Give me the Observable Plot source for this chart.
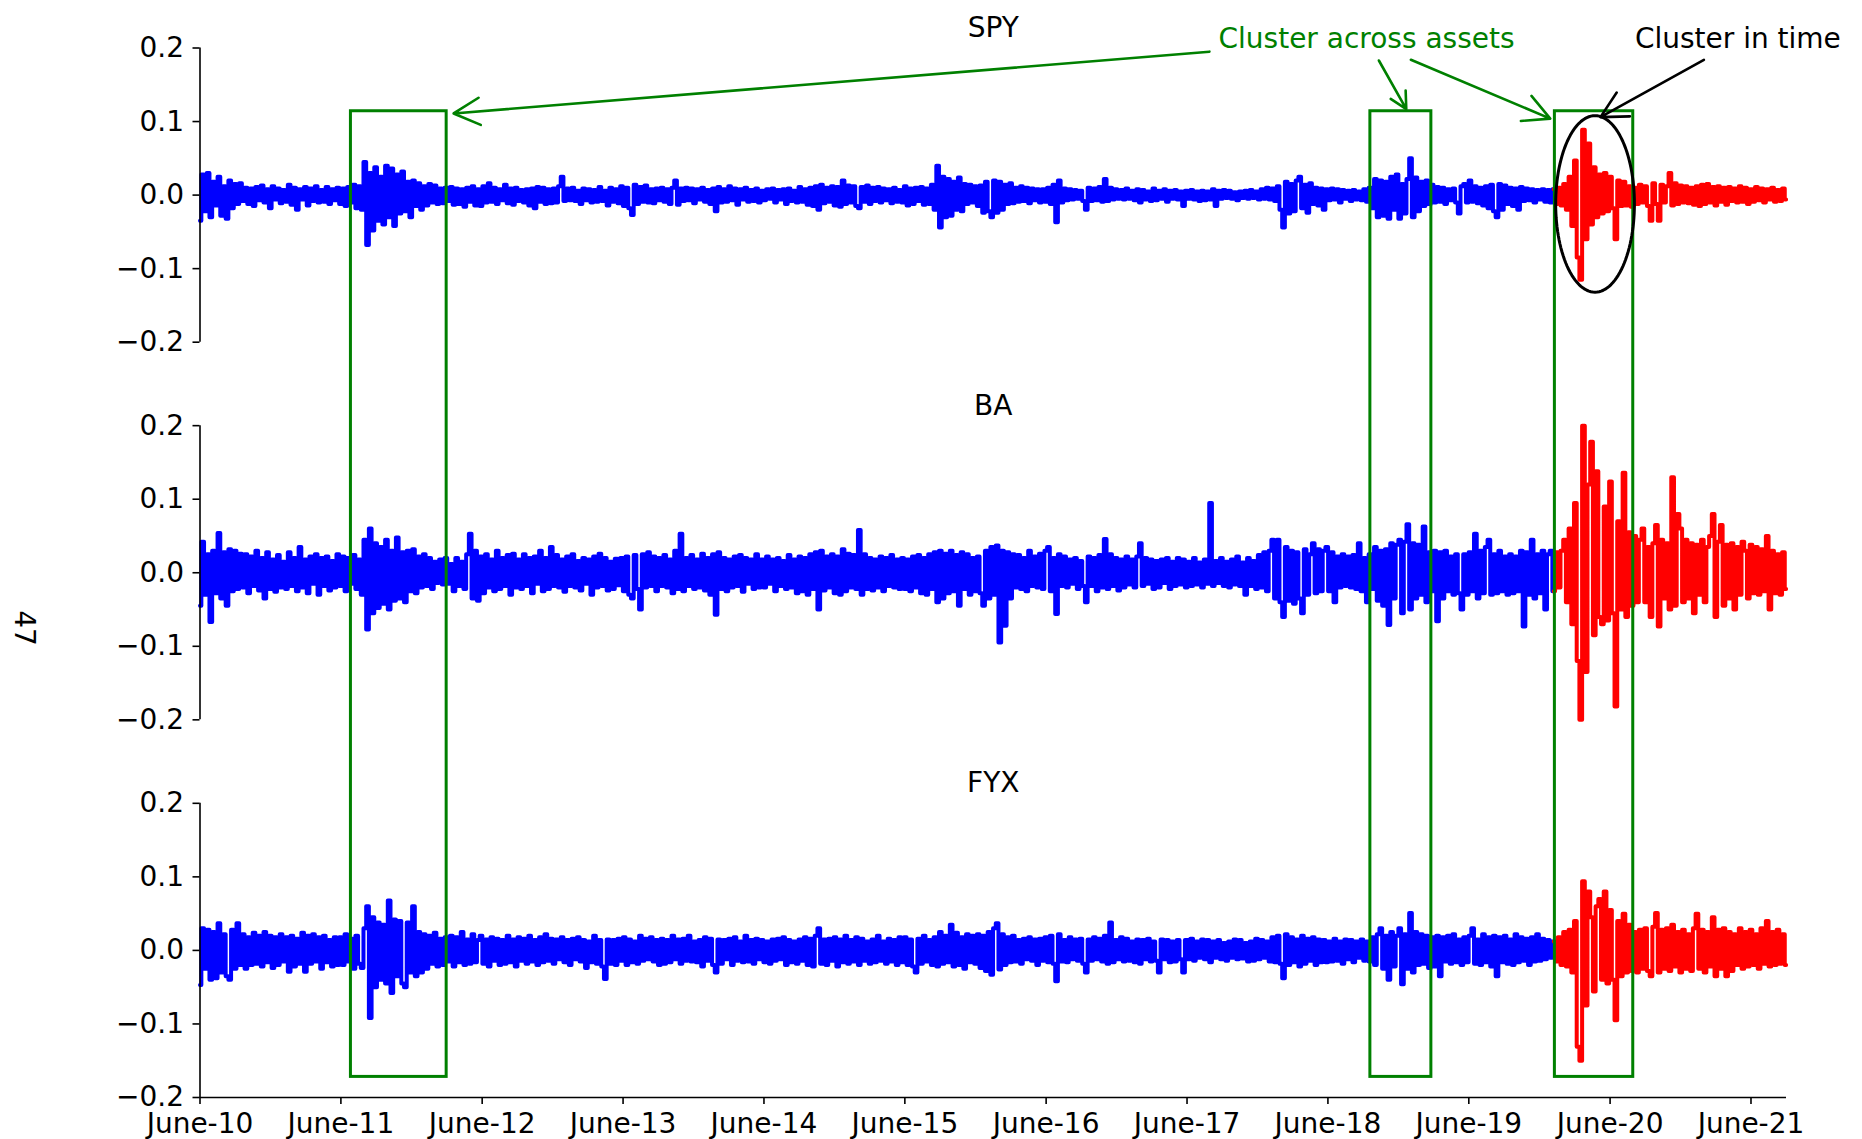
<!DOCTYPE html>
<html>
<head>
<meta charset="utf-8">
<script src="https://cdn.jsdelivr.net/npm/d3@7"></script>
<script src="https://cdn.jsdelivr.net/npm/@observablehq/plot@0.6"></script>
<style>
  html, body { margin: 0; padding: 0; background: #fff; }
  #chart { width: 1862px; height: 1139px; }
</style>
</head>
<body>
<div id="chart"></div>
<script>
// ---------- time frame ----------
const startDate = "2010-06-01";   // first weekly observation
const endDate = "2021-09-01";     // end of x domain
const redFrom = "2020-01-01";     // series switch from blue to red
const xTickYears = [2010, 2011, 2012, 2013, 2014, 2015, 2016, 2017, 2018, 2019, 2020, 2021];
const yTicks = [-0.2, -0.1, 0.0, 0.1, 0.2];
const panelNames = ["SPY", "BA", "FYX"];
const panelGap = 0.5135;          // vertical distance between stacked panels (in return units)

// ---------- weekly returns, in thousandths (per mille), one row per year from June ----------
const spyPermille = [
  -35,28,-22,30,-30,18,-14,25,-28,12,-32,20,-18,15,-12,16, -8,10,-12,9,-15,11,-7,13,-10,8,-18,12,-6,9,-11,7, -9,14,-13,10,-20,8,-6,11,-14,9,-8,12,-10,7,-9,11,-12,8,-7,10,
  -12,9,-15,11,-10,14,-18,12,-20, 45,-68,30,-48,38,-35,25,-40,40,-30,36,-42,28,-25,32, -22,18,-30,20,-15,16,-20,12,-14,15,-10,13,-12,9,-11,10, -8,11,-13,9,-12,8,-16,10,-9,12,-14,8,
  -15,12,-10,16,-9,10,-12,8,-7,14,-11,9,-13,10,-8,7, -10,8,-14,9,-18,11,-9,10,-12,8,-11,9,-10,12,25,-8, 9,-7,10,-8,6,-12,9,-7,8,-10,7,-9,11,-8,6,-14,10,-9,8,-11,
  12,-15,10,-18,-27,14,-12,11,-9,13,-10,8,-11,9,-7,10, -9,8,-12,10,20,-13,9,-8,10,-7,9,-11,8,-6,10,-9, 7,-12,9,-22,11,-10,8,-9,12,-7,9,-13,8,-6,10,-9,7,-8,9,-10,
  6,-7,8,-5,9,-10,7,-6,8,-12,9,-8,6,-10,11,-9, 8,-13,10,-15,12,-20,14,-11,10,-9,12,-14,11,-16,20,-12, 13,-10,12,-15,-18,11,-9,13,-12,10,-8,11,-10,9,-7,8,-11,10,-9,7,
  -10,12,-14,9,-12,10,-8,11,-13,9,-12,14,-20,40,-44,25, -30,22,-28,18,-20,24,-22,15,-12,14,-10,12,-15,13,-24,18, -22,-30,20,-24,18,-20,14,-12,16,-11,10,-9,12,-8,10,-11,9,-7,8,-10,
  8,-9,10,-12,14,-37,20,-10,9,-7,8,-6,7,-5,6,-8, -20,10,-8,9,-7,11,-9,22,-8,10,-6,8,-5,7,-6,9, -5,6,-7,8,-10,7,-6,5,-8,9,-7,6,-5,8,-9,6,-5,7,-6,5,
  -15,6,-5,7,-6,5,-8,6,-7,5,-6,8,-15,6,-5,7, -4,6,-5,4,-7,5,-4,6,-5,7,-4,5,-6,8,-5,10, -6,9,-8,12,-20,-44,18,-25,15,-22,20,25,-18,14,-24,16,-12,10,-14,9,
  -20,8,-7,9,-6,8,-10,7,-5,6,-8,7,-6,5,-7,8, -9,10,-18,22,-30,20,-28,18,-32,25,-20,28,-32,15,-25,22, 50,-30,24,-22,18,-15,20,-12,14,-10,11,-9,10,-12,8,-7,9,-10,-25,12,
  15,-10,20,-9,12,-11,10,-14,12,-18,14,-22,-30,15,-20,13, -12,10,-15,9,-20,11,-8,9,-7,8,-10,7,-6,8,-9,7, -10,8,-12,10,-14,15,-20,25,-42,47,-85,-115,89,-60,70,-40,38,-30,28,-25,
  30,-22,25,-18,-60,20,-15,18,-14,12,-16,10,-12,14,-10,12, -15,-35,16,-12,-35,14,-10,12,30,-14,16,-12,13,-10,12,-11, 10,-13,12,-15,14,-12,15,-10,11,-14,12,-9,10,-13,11,-8,9,-10,12,-9,
  10,-12,8,-9,11,-7,9,-10,8,-6,10,-9,7,-8,9,-6
];

const baPermille = [
  -45,42,-30,25,-67,30,-28,54,-35,28,-45,32,-25,30,-22,26, -20,25,-28,22,-18,30,-24,20,-35,28,-22,18,-26,24,-20,15, -22,28,-18,20,-25,35,-20,18,-28,22,-15,25,-30,20,-18,22,-24,16,-20,25,
  -18,22,-25,20,-15,24,-22,18,-30, 45,-77,60,-55,40,-48,35,-42,45,-50,30,-38,48,-35,28, -40,30,-25,32,-28,22,-20,25,-18,20,-22,15,-14,18,-16,20, -15,12,-25,20,-18,15,-22,25,53,-35,30,-38,
  22,-28,25,-20,18,-25,30,-22,20,-18,24,-30,26,-20,18,-22, 25,-18,20,-28,22,-15,30,-25,20,-22,35,-18,24,-20,18,-26, 22,-18,25,-20,16,-24,20,-15,18,-30,22,-20,26,-18,20,-24,15,-22,19,-17,
  20,-25,22,-30,-35,24,-22,-50,25,-20,28,-18,22,-25,20,-18, 24,-20,18,-28,30,-22,53,-25,20,-18,24,-22,18,-20,26,-24, 20,-30,25,-57,28,-22,20,-25,18,-20,22,-18,24,-26,20,-15,18,-22,25,-20,
  18,-20,22,-15,18,-25,20,-18,16,-22,24,-20,18,-28,22,-25, 20,-30,25,-22,28,-50,30,-24,22,-20,25,-28,22,-30,32,-25, 26,-20,24,-22,58,-30,25,-22,20,-24,18,-20,22,-25,20,-18,24,-20,18,-22,
  20,-22,18,-25,22,-20,24,-28,20,-30,25,-22,28,-40,30,-35, 26,-28,30,-25,24,-45,28,-22,25,-30,20,-25,22,-28,-45,30, -35,35,-30,37,-95,30,-72,28,-35,25,-20,24,-22,20,-25,30,-18,22,-20,26,
  -22,30,35,-25,20,-56,25,-18,22,-20,18,-15,20,-22,16,-18, -40,22,-18,20,-25,24,-20,46,-22,25,-18,20,-24,18,-20,22, -16,18,-20,22,40,-18,20,-15,18,-22,16,-20,18,-14,20,-22,15,-18,20,-16,
  18,-20,15,-18,20,-16,14,-20,18,-15,95,-18,16,-14,20,-18, 15,-20,18,-16,22,-18,14,-30,20,-18,16,-22,24,-20,28,-25, 30,45,-35,45,-40,-60,35,-38,30,-42,28,-35,-55,32,-30,25,40,-28,32,-25,
  30,35,-25,28,-40,22,-20,25,-18,22,-20,24,-22,40,-25,20, -40,25,-22,35,-38,30,-45,32,-71,40,-35,38,45,-55,42,66, -50,40,-35,38,-30,63,-40,28,-25,30,-66,28,-35,30,-25,22,-30,25,-28,-50,
  25,-30,28,-25,53,-35,30,-28,35,45,-30,25,-28,30,-25,22, -30,25,-28,22,-25,30,-73,28,-30,45,-35,25,-28,30,-50,25, 30,-25,28,-20,30,45,-40,60,-70,95,-120,-200,200,-135,120,178,-85,138,-60,-70,
  90,-65,124,-55,-182,70,-50,136,-60,55,-45,50,-40,45,60,-40, 35,-60,40,65,-73,45,-35,40,-50,130,-45,80,60,-40,45,-35, 40,-55,38,-30,45,-40,35,50,80,-60,42,65,-45,38,-35,40,-50,35,-30,42,
  30,-35,38,-28,35,-30,32,-25,50,-50,30,-28,25,-30,28,-22
];

const fyxPermille = [
  -47,30,-25,28,-40,25,-38,37,-30,22,-35,-40,28,-25,37,-20, 22,-25,18,-20,24,-18,20,-22,25,-16,20,-24,18,-20,22,-15, 18,-29,20,-22,16,-18,24,-29,20,-18,22,-15,18,-25,20,-16,14,-22,18,-20,
  18,-20,22,-15,16,-25,20,-18,-24, 30,60,-92,45,-50,38,-40,35,-45,68,-58,42,-35,40,-45, -50,38,-30,60,-35,25,-30,22,-25,20,-18,24,-22,16,-20,18, -15,20,-22,18,-16,25,-20,15,-18,22,-16,14,
  20,-18,15,-22,18,-14,16,-20,14,-18,20,-16,15,-22,18,-14, 16,-18,20,-15,14,-20,18,-16,22,-14,16,-18,15,-12,18,-16, 14,-20,16,-12,18,-15,14,-24,12,-16,20,-18,14,-22,-39,15,-18,14,-20,16,
  -14,18,-20,15,-16,12,-18,20,-14,16,-12,18,-15,14,-20,16, -18,14,-16,20,-12,15,-18,16,-14,20,-15,12,-16,14,-22,18, -14,16,-20,-30,15,-18,14,-12,16,-20,18,-14,12,-16,20,-15,14,-18,16,-12,
  14,-16,12,-18,15,-14,16,-12,18,-20,14,-16,12,-18,15,-14, 18,-20,16,-22,20,30,-18,15,-20,16,-14,18,-22,15,-16,20, -18,14,-15,18,-20,16,-14,12,-18,15,-16,20,-14,12,-18,16,-15,14,-20,18,
  -16,18,-20,15,-22,-30,16,-18,20,-15,14,-20,18,-22,25,-18, 20,-16,35,-22,24,-20,18,-25,22,-16,20,-18,22,-24,20,-28, 25,-33,30,37,-26,22,-20,18,-16,20,-15,14,-18,16,-12,18,-14,15,-20,16,
  -14,18,-16,20,-18,-42,22,-15,14,-16,18,-12,15,-14,16,-18, -30,15,-14,18,-12,16,-15,20,-18,38,-16,14,-12,18,-15,16, -14,12,-16,15,-18,14,-12,16,-15,12,-14,-30,15,-12,14,-16,12,-15,14,-12,
  -30,14,-12,16,-14,12,-10,15,-12,14,-16,12,-10,14,-12,10, -14,12,-10,15,-12,14,-11,10,-15,12,-14,16,-12,14,-10,12, -15,18,-16,20,-18,-38,22,-20,18,-16,15,-22,20,-18,16,-14,18,-20,15,-16,
  14,-16,12,-15,16,-14,12,-18,15,-12,14,-16,12,-10,15,-14, 12,-15,18,-20,22,30,-25,20,-40,25,-22,20,30,-46,22,-25, 51,-30,25,-20,22,-18,20,-24,18,-22,20,-35,18,-15,20,-18,22,-16,15,-20,
  18,-16,20,30,-18,15,-20,22,-16,18,-22,20,-35,18,-16,20, -18,15,-20,22,-16,18,-14,16,-20,18,-15,22,-14,16,-12,14, -10,12,-15,18,-20,25,-22,28,-30,40,-131,-150,94,-75,80,45,-56,60,70,-40,
  80,-45,55,-40,-95,40,-35,50,-30,35,-28,25,-30,28,-25,30, -28,-35,32,51,-30,28,-25,30,-28,35,-22,25,-30,28,-25,22, -28,30,50,-25,28,-30,25,-22,45,-35,28,-25,30,-35,25,-28,22,-20,30,-25,
  25,-22,28,-20,22,-25,30,-18,40,-22,25,-20,28,-18,22,-20
];

// ---------- annotations (data coordinates) ----------
const clusterBoxes = [               // periods boxed across all three assets
  { start: "2011-06-27", end: "2012-03-01" },
  { start: "2018-09-19", end: "2019-02-24" },
  { start: "2020-01-10", end: "2020-07-31" }
];
const boxTopSPY = 0.114;             // box top, in SPY panel units
const boxBottomFYX = -0.172;         // box bottom, in FYX panel units
const acrossArrows = [               // "Cluster across assets" arrows (SPY panel units)
  { fromDate: "2017-07-29", fromValue: 0.195, toDate: "2012-03-19", toValue: 0.111 },
  { fromDate: "2018-10-11", fromValue: 0.183, toDate: "2018-12-21", toValue: 0.117 },
  { fromDate: "2019-01-02", fromValue: 0.184, toDate: "2019-12-29", toValue: 0.104 }
];
const timeArrow = [{ fromDate: "2021-01-30", fromValue: 0.184, toDate: "2020-05-07", toValue: 0.106 }];
const labels = [
  { text: "Cluster across assets", date: "2018-09-09", value: 0.2116, color: "#008000" },
  { text: "Cluster in time", date: "2021-04-28", value: 0.2116, color: "#000000" }
];
const ellipseCenterDate = "2020-04-23";
const ellipseCenterValue = -0.012;
const ellipseHalfWidthDays = 102;
const ellipseHalfHeight = 0.12;
const pageNumber = "47";
const pageNumberValueBA = -0.051;   // position of rotated page number, BA panel units

// ---------- build ----------
const D = s => new Date(s + "T00:00:00Z");
const t0 = D(startDate);
const split = D(redFrom);
const seriesList = [spyPermille, baPermille, fyxPermille];
const offsets = panelNames.map((_, k) => k * panelGap);
const fmt = d3.format(".1f");
const FONT = 28;

const marks = [];
panelNames.forEach((name, k) => {
  const off = offsets[k];
  const rows = seriesList[k].map((v, i) => ({ date: d3.utcDay.offset(t0, 7 * i), value: v / 1000 }));
  const firstRed = rows.findIndex(r => r.date >= split);
  const blue = rows.slice(0, firstRed + 1);
  const red = rows.slice(firstRed);
  const lineOpts = { x: "date", y: d => d.value - off, strokeWidth: 4, strokeLinejoin: "round", strokeLinecap: "round", curve: "step" };
  marks.push(Plot.line(blue, { ...lineOpts, stroke: "#0000ff" }));
  marks.push(Plot.line(red, { ...lineOpts, stroke: "#ff0000" }));
  marks.push(Plot.ruleX([t0], { y1: -0.2 - off, y2: 0.2 - off, stroke: "#000", strokeWidth: 1.6 }));
  marks.push(Plot.axisY({
    ticks: yTicks.map(t => t - off),
    tickFormat: d => fmt(Math.round((d + off) * 10) / 10),
    tickSize: 7, tickPadding: 9, label: null, fontSize: FONT, strokeWidth: 1.6
  }));
});

const panelTitles = panelNames.map((name, k) => ({ name, top: 0.2 - offsets[k] }));
marks.push(Plot.text(panelTitles, { y: "top", text: "name", dy: -20, lineAnchor: "middle", fontSize: FONT, fill: "#000" }));

const yMin = -0.2 - offsets[2];
marks.push(Plot.ruleY([yMin], { stroke: "#000", strokeWidth: 1.6 }));
marks.push(Plot.axisX({
  ticks: xTickYears.map(y => new Date(Date.UTC(y, 5, 1))),
  tickFormat: d3.utcFormat("%B-%y"),
  tickSize: 7, tickPadding: 9, label: null, fontSize: FONT, strokeWidth: 1.6
}));

// boxes
marks.push(Plot.rect(clusterBoxes, {
  x1: d => D(d.start), x2: d => D(d.end),
  y1: boxBottomFYX - offsets[2], y2: boxTopSPY,
  fill: "none", stroke: "#008000", strokeWidth: 3
}));

// ellipse around the 2020 cluster
const ec = D(ellipseCenterDate);
const ellipse = d3.range(0, 361, 3).map(a => ({
  date: new Date(+ec + ellipseHalfWidthDays * 864e5 * Math.cos(a * Math.PI / 180)),
  value: ellipseCenterValue + ellipseHalfHeight * Math.sin(a * Math.PI / 180)
}));
marks.push(Plot.line(ellipse, { x: "date", y: "value", stroke: "#000", strokeWidth: 3, curve: "linear" }));

// arrows
const arrowOpts = { x1: d => D(d.fromDate), y1: "fromValue", x2: d => D(d.toDate), y2: "toValue", bend: false, headLength: 17, headAngle: 55, strokeWidth: 2.6 };
marks.push(Plot.arrow(acrossArrows, { ...arrowOpts, stroke: "#008000" }));
marks.push(Plot.arrow(timeArrow, { ...arrowOpts, stroke: "#000" }));

// annotation labels
marks.push(Plot.text(labels, { x: d => D(d.date), y: "value", text: "text", fill: "color", lineAnchor: "middle", fontSize: FONT }));

// rotated page number at the far left
marks.push(Plot.text([pageNumber], { frameAnchor: "left", y: () => pageNumberValueBA - offsets[1], text: d => d, dx: -176.5, rotate: 90, fontSize: FONT, fill: "#000" }));

const chart = Plot.plot({
  width: 1862,
  height: 1139,
  marginLeft: 199.5,
  marginRight: 76,
  marginTop: 47.5,
  marginBottom: 42,
  style: { fontFamily: "'DejaVu Sans', sans-serif", fontSize: FONT + "px", background: "#fff", color: "#000", overflow: "visible" },
  x: { type: "utc", domain: [t0, D(endDate)] },
  y: { domain: [yMin, 0.2] },
  marks
});
document.getElementById("chart").appendChild(chart);
</script>
</body>
</html>
